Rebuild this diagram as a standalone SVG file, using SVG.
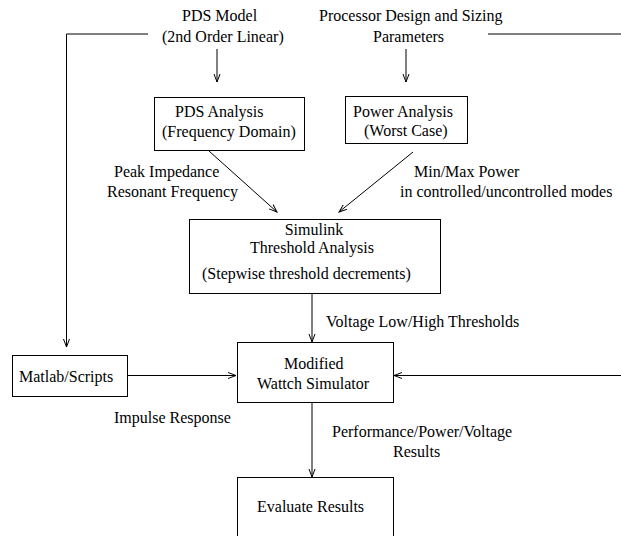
<svg xmlns="http://www.w3.org/2000/svg" width="621" height="536" viewBox="0 0 621 536">
<style>
text{font-family:"Liberation Serif","Times New Roman",serif;font-size:16px;fill:#000}
.box{fill:#fff;stroke:#000;stroke-width:1}
.ln{fill:none;stroke:#000;stroke-width:1}
</style>
<defs>
<marker id="ah" markerUnits="userSpaceOnUse" markerWidth="10" markerHeight="8" refX="8" refY="3.5" orient="auto">
<path d="M0,0.5 L8,3.5 L0,6.5" fill="none" stroke="#000" stroke-width="1"/>
</marker>
</defs>
<rect width="621" height="536" fill="#fff"/>
<g id="connectors">
<polyline class="ln" points="148,34 66.5,34 66.5,347" marker-end="url(#ah)"/>
<line class="ln" x1="488" y1="34" x2="621" y2="34"/>
<line class="ln" x1="217" y1="49" x2="217" y2="82" marker-end="url(#ah)"/>
<line class="ln" x1="406" y1="49" x2="406" y2="82" marker-end="url(#ah)"/>
<line class="ln" x1="209" y1="151" x2="277" y2="212" marker-end="url(#ah)"/>
<line class="ln" x1="413" y1="152" x2="339" y2="212" marker-end="url(#ah)"/>
<line class="ln" x1="312" y1="293" x2="312" y2="342" marker-end="url(#ah)"/>
<line class="ln" x1="127" y1="375.5" x2="236" y2="375.5" marker-end="url(#ah)"/>
<line class="ln" x1="621" y1="375.5" x2="394" y2="375.5" marker-end="url(#ah)"/>
<line class="ln" x1="312" y1="402" x2="312" y2="477" marker-end="url(#ah)"/>
</g>
<g id="pds-model">
<text x="182" y="21">PDS Model</text>
<text x="162" y="42">(2nd Order Linear)</text>
</g>
<g id="processor-params">
<text x="319" y="21">Processor Design and Sizing</text>
<text x="373" y="42">Parameters</text>
</g>
<g id="pds-analysis">
<rect class="box" x="154.5" y="97.5" width="150" height="53"/>
<text x="175" y="117">PDS Analysis</text>
<text x="162" y="137">(Frequency Domain)</text>
</g>
<g id="power-analysis">
<rect class="box" x="345.5" y="96.5" width="122" height="47"/>
<text x="353" y="117">Power Analysis</text>
<text x="364" y="136">(Worst Case)</text>
</g>
<g id="label-peak">
<text x="114" y="177">Peak Impedance</text>
<text x="107" y="197">Resonant Frequency</text>
</g>
<g id="label-minmax">
<text x="414" y="177">Min/Max Power</text>
<text x="400" y="197">in controlled/uncontrolled modes</text>
</g>
<g id="simulink">
<rect class="box" x="189.5" y="219.5" width="251" height="74"/>
<text x="314" y="235" text-anchor="middle">Simulink</text>
<text x="250" y="253">Threshold Analysis</text>
<text x="202" y="279">(Stepwise threshold decrements)</text>
</g>
<g id="label-voltage">
<text x="326" y="327">Voltage Low/High Thresholds</text>
</g>
<g id="matlab">
<rect class="box" x="12.5" y="355.5" width="115" height="41"/>
<text x="19" y="382">Matlab/Scripts</text>
</g>
<g id="label-impulse">
<text x="114" y="423">Impulse Response</text>
</g>
<g id="wattch">
<rect class="box" x="237.5" y="342.5" width="156" height="60"/>
<text x="284" y="369">Modified</text>
<text x="257" y="389">Wattch Simulator</text>
</g>
<g id="label-results">
<text x="332" y="437">Performance/Power/Voltage</text>
<text x="393" y="457">Results</text>
</g>
<g id="evaluate">
<rect class="box" x="237.5" y="477.5" width="156" height="70"/>
<text x="257" y="512">Evaluate Results</text>
</g>
</svg>
